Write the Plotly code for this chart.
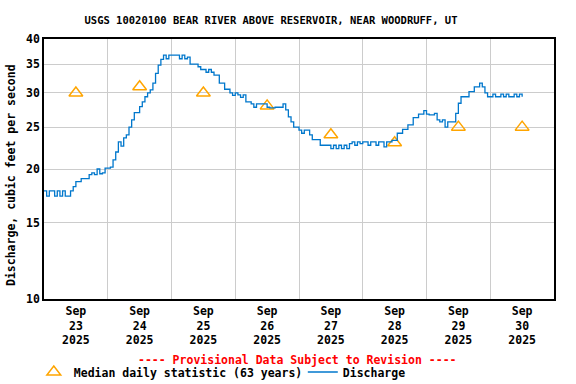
import pandas as pd
import plotly.graph_objects as go

# Discharge, hourly readings starting 2025-09-23 00:00 (ft^3/s)
discharge = [
    17.8, 17.3, 17.8, 17.8, 17.3, 17.8, 17.3, 17.8, 17.3, 17.3,
    17.8, 18.2, 18.7, 18.7, 19.0, 19.0, 19.0, 19.4, 19.6, 19.4,
    20.0, 19.5, 19.6, 20.1, 20.1, 20.2, 21.0, 21.9, 23.1, 22.6,
    23.6, 24.0, 25.0, 26.0, 27.0, 27.0, 27.9, 28.6, 29.4, 30.0,
    30.5, 31.6, 33.3, 34.8, 35.9, 36.7, 36.0, 36.7, 36.7, 36.7,
    36.7, 36.0, 36.7, 36.0, 36.3, 35.0, 35.0, 35.0, 34.5, 34.0,
    34.0, 33.5, 34.0, 33.5, 33.0, 33.0, 31.6, 31.6, 30.6, 30.6,
    30.0, 29.6, 30.0, 29.7, 29.3, 29.7, 28.6, 28.6, 28.3, 27.8,
    28.3, 28.3, 28.3, 28.3, 27.8, 27.7, 27.7, 27.8, 27.8, 27.8,
    28.3, 27.4, 26.4, 25.7, 25.0, 25.0, 24.6, 24.2, 24.6, 24.6,
    24.0, 23.4, 23.4, 23.4, 22.7, 22.7, 22.7, 22.7, 22.3, 22.7,
    22.3, 22.7, 22.3, 22.7, 22.3, 22.9, 23.1, 22.7, 23.1, 22.9,
    23.1, 23.1, 22.7, 23.1, 23.1, 22.7, 23.1, 23.1, 22.5, 23.1,
    23.1, 23.3, 23.3, 24.2, 24.2, 24.7, 24.7, 25.3, 25.3, 26.3,
    26.3, 26.8, 26.8, 27.3, 26.8, 26.7, 26.7, 26.9, 26.0, 25.7,
    26.0, 25.0, 25.7, 25.7, 25.7, 26.9, 28.4, 29.4, 29.4, 29.4,
    30.2, 30.2, 31.0, 31.0, 31.6, 31.0, 30.0, 29.4, 29.4, 29.8,
    29.4, 29.4, 29.8, 29.4, 29.8, 29.4, 29.4, 29.8, 29.4, 29.8,
    29.4,
]
discharge_start = "2025-09-23 00:00"

# Median daily statistic (63 years), plotted at noon of each day
median_days = ["2025-09-23", "2025-09-24", "2025-09-25", "2025-09-26",
               "2025-09-27", "2025-09-28", "2025-09-29", "2025-09-30"]
median_values = [30, 31, 30, 28, 24, 23, 25, 25]

tick_days = median_days
tick_text = ["Sep<br>%s<br>2025" % d[-2:] for d in tick_days]
y_ticks = [10, 15, 20, 25, 30, 35, 40]

times = pd.date_range(discharge_start, periods=len(discharge), freq="h")
median_times = [pd.Timestamp(d) + pd.Timedelta(hours=12) for d in median_days]
tick_vals = [pd.Timestamp(d) + pd.Timedelta(hours=12) for d in tick_days]

MONO = "DejaVu Sans Mono"
BLUE = "#0077cc"
ORANGE = "#ffa500"

def f(size, color="black"):
    return dict(family=MONO, size=size, color=color, weight="bold")

fig = go.Figure()
fig.add_trace(go.Scatter(
    x=median_times, y=median_values, mode="markers",
    name="Median daily statistic (63 years)",
    marker=dict(symbol="triangle-up-open", size=12, color=ORANGE,
                line=dict(width=1.5, color=ORANGE)),
))
fig.add_trace(go.Scatter(
    x=times, y=discharge, mode="lines", name="Discharge",
    line=dict(color=BLUE, width=1.3, shape="hv"),
))

fig.update_layout(
    width=576, height=384,
    margin=dict(l=44, r=22, t=39, b=85, autoexpand=False),
    paper_bgcolor="white", plot_bgcolor="white",
    font=f(11.5),
    title=dict(text="USGS 10020100 BEAR RIVER ABOVE RESERVOIR, NEAR WOODRUFF, UT",
               x=271 / 576, xanchor="center", xref="container",
               y=1 - 20 / 384, yanchor="middle", yref="container",
               font=f(10.5)),
    showlegend=True,
    legend=dict(orientation="h", x=-0.020, xanchor="left",
                y=(299 - 372) / 260, yanchor="middle",
                yref="paper", font=f(11.5),
                bgcolor="rgba(0,0,0,0)", itemwidth=30, tracegroupgap=0,
                entrywidth=224, entrywidthmode="pixels"),
)

fig.update_xaxes(
    type="date", automargin=False,
    range=["2025-09-23 00:00", "2025-10-01 00:00"],
    tickmode="array", tickvals=tick_vals, ticktext=tick_text,
    ticks="", showgrid=False,
    minor=dict(dtick=86400000, tick0="2025-09-23 00:00", showgrid=True,
               gridcolor="#cccccc", gridwidth=1, ticks=""),
    showline=True, mirror=True, linecolor="black", linewidth=1.5,
    tickfont=f(11.5),
    zeroline=False,
)
fig.update_yaxes(
    type="log", automargin=False, range=[1.0, 1.60206],
    tickmode="array", tickvals=y_ticks, ticktext=[str(v) for v in y_ticks],
    ticks="", showgrid=True, gridcolor="#cccccc", gridwidth=1,
    showline=True, mirror=True, linecolor="black", linewidth=1.5,
    tickfont=f(11.5),
    zeroline=False,
)

fig.add_annotation(
    text="Discharge, cubic feet per second", textangle=-90,
    xref="paper", yref="paper", x=(11 - 44) / 510, y=(299 - 175) / 260,
    xanchor="center", yanchor="middle", showarrow=False, font=f(11.5),
)
fig.add_annotation(
    text="---- Provisional Data Subject to Revision ----",
    xref="paper", yref="paper", x=0.498, y=(299 - 360) / 260,
    xanchor="center", yanchor="middle", showarrow=False,
    font=f(11.5, "red"),
)

fig.write_html("out.html", config={"displayModeBar": False},
               post_script="document.body.style.margin='0';document.body.style.overflow='hidden';")
